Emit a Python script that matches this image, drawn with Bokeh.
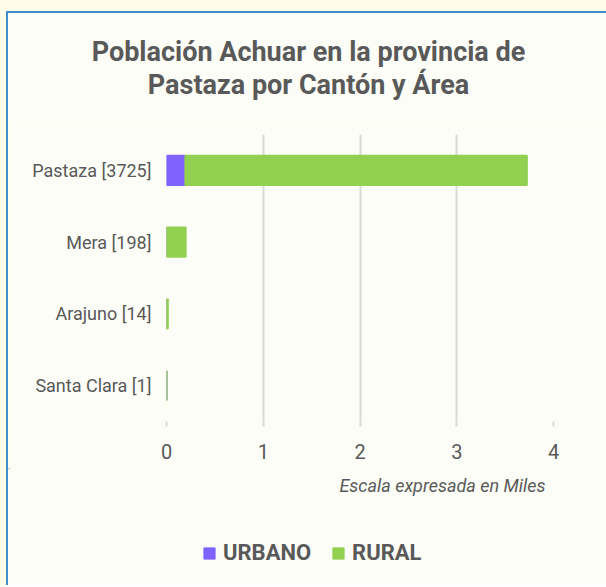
from bokeh.plotting import figure
from bokeh.layouts import column
from bokeh.models import (ColumnDataSource, FactorRange, Range1d, Legend, LegendItem,
                          FixedTicker)
from bokeh.core.properties import value
from bokeh.embed import file_html
from bokeh.resources import INLINE

# ---- data ----
cantones = ["Pastaza [3725]", "Mera [198]", "Arajuno [14]", "Santa Clara [1]"]
urbano = [0.195, 0.0, 0.0, 0.0]      # miles
rural = [3.530, 0.198, 0.014, 0.001]  # miles
series = ["URBANO", "RURAL"]
colors = ["#7F63FF", "#92D050"]
x_ticks = [0, 1, 2, 3, 4]
title_lines = ["Población Achuar en la provincia de", "Pastaza por Cantón y Área"]
note = "Escala expresada en Miles"

TXT = "#595959"
CARD = "#FDFDF7"
BLUE = "#3D8FD1"
W = 600
HA, HB, HC = 111, 346, 117


def blank(h):
    f = figure(width=W, height=h, output_backend="svg", toolbar_location=None,
               x_range=Range1d(0, W), y_range=Range1d(h, 0),
               min_border=0, x_axis_type=None, y_axis_type=None, frame_align=False)
    f.background_fill_color = CARD
    f.border_fill_color = CARD
    f.outline_line_color = None
    f.grid.visible = False
    return f


# ---- header: title ----
fa = blank(HA)
fa.text(x=[W / 2] * len(title_lines), y=[38, 71], text=title_lines,
        text_align="center", text_baseline="middle", text_font=value("Roboto"),
        text_font_style="bold", text_font_size="27px", text_color=TXT)

# ---- main chart ----
src = ColumnDataSource(dict(canton=cantones, URBANO=urbano, RURAL=rural))
p = figure(width=W, height=HB, output_backend="svg", toolbar_location=None,
           y_range=FactorRange(*reversed(cantones)), x_range=Range1d(0, 4),
           min_border_left=158, min_border_right=55, min_border_top=12, min_border_bottom=47,
           frame_align=False)
p.background_fill_color = CARD
p.border_fill_color = CARD
p.outline_line_color = None

p.hbar_stack(series, y="canton", height=0.41, source=src, color=colors, line_width=2)

p.xgrid.grid_line_color = "#D9D9D9"
p.xgrid.grid_line_width = 2
p.ygrid.grid_line_color = None
p.xaxis.ticker = FixedTicker(ticks=x_ticks)
p.xaxis.axis_line_color = None
p.xaxis.major_tick_line_color = "#D9D9D9"
p.xaxis.major_tick_line_width = 2
p.xaxis.major_tick_out = 5
p.xaxis.major_tick_in = 0
p.xaxis.minor_tick_line_color = None
p.xaxis.major_label_standoff = 17
p.xaxis.major_label_text_font = "Roboto"
p.xaxis.major_label_text_font_size = "20px"
p.xaxis.major_label_text_color = TXT

p.yaxis.axis_line_color = None
p.yaxis.major_tick_line_color = None
p.yaxis.major_tick_out = 0
p.yaxis.major_label_standoff = 15
p.yaxis.major_label_text_font = "Roboto"
p.yaxis.major_label_text_font_size = "18px"
p.yaxis.major_label_text_color = TXT

# ---- footer: note + legend ----
fc = blank(HC)
fc.text(x=[537], y=[17], text=[note], text_align="right", text_baseline="middle",
        text_font=value("Roboto"), text_font_style="italic", text_font_size="18px",
        text_color=TXT)
# legend swatch renderers: one bar each, placed outside the visible range (legend only)
swatch_src = ColumnDataSource(dict(y=[-1000], left=[0], right=[1]))
swatches = [fc.hbar(y="y", left="left", right="right", height=1, color=c, source=swatch_src)
            for c in colors]
legend = Legend(items=[LegendItem(label=s, renderers=[rr]) for s, rr in zip(series, swatches)],
                orientation="horizontal", location=(194, 20),
                background_fill_alpha=0, border_line_color=None,
                label_text_font="Roboto", label_text_font_style="bold",
                label_text_font_size="22px", label_text_color=TXT,
                glyph_width=14, glyph_height=14, spacing=20, padding=0, margin=0,
                label_standoff=7)
fc.add_layout(legend, "center")

fa.styles = {"border-left": f"2px solid {BLUE}", "border-top": f"2px solid {BLUE}"}
p.styles = {"border-left": f"2px solid {BLUE}"}
fc.styles = {"border-left": f"2px solid {BLUE}"}
layout = column(fa, p, fc, spacing=0,
                styles={"background-color": "#FFFDE8", "padding-left": "6px", "padding-top": "11px"})

open("out.html", "w").write(file_html(layout, INLINE))
